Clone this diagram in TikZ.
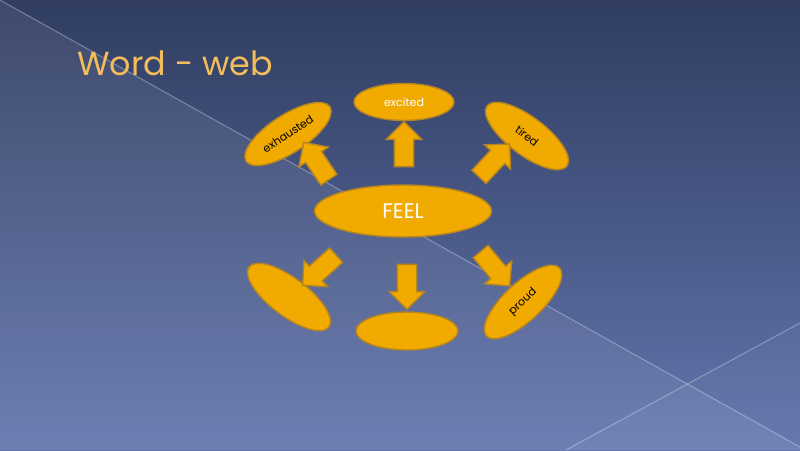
\documentclass[tikz,border=0pt]{standalone}
\usepackage{fontspec}
\setmainfont{Poppins}
\usetikzlibrary{shapes.geometric}
\usetikzlibrary{shapes.arrows}

\definecolor{slidetop}{HTML}{303D61}
\definecolor{slidebottom}{HTML}{6275AD}
\definecolor{petal}{HTML}{F0AA00}
\definecolor{petalrim}{HTML}{B58522}
\definecolor{titlegold}{HTML}{F4BD5B}

\begin{document}
\begin{tikzpicture}[x=0.02cm, y=-0.02cm,
    bubble/.style={ellipse, draw=petalrim, fill=petal, line width=0.8pt, minimum width=2cm, minimum height=0.76cm, inner sep=0pt, font=\fontsize{6.3}{7}\selectfont},
    push/.style={single arrow, draw=petalrim, fill=petal, line width=0.8pt, inner xsep=0pt, inner ysep=0.18cm, single arrow head extend=0.16cm, minimum height=0.9cm}]
        \useasboundingbox (0,0) rectangle (800,450);
        % slide background
        \shade[top color=slidetop, bottom color=slidebottom] (0,0) rectangle (800,450);
        \fill[white, opacity=0.07] (0,0) -- (800,447) -- (800,450) -- (0,450) -- cycle;
        \fill[white, opacity=0.03] (566,450) -- (800,323) -- (800,450) -- cycle;
        \draw[white, opacity=0.3, line width=0.6pt] (0,0) -- (800,447);
        \draw[white, opacity=0.3, line width=0.6pt] (566,450) -- (800,323);
        \node[anchor=base west, text=titlegold, font=\fontsize{19}{22}\selectfont, inner sep=0pt] (title) at (77,75) {Word - web};

        % centre and outer words
        \node[bubble, minimum width=3.54cm, minimum height=1.04cm, text=white, font=\fontsize{12}{14}\selectfont] (feel) at (403,211) {FEEL};
        \node[bubble, minimum height=0.74cm, text=white] (excited) at (404,102) {excited};
        \node[bubble, rotate=33] (exhausted) at (288,134) {exhausted};
        \node[bubble, rotate=-37] (tired) at (527,136) {tired};
        \node[bubble, rotate=43] (proud) at (523,302) {proud};
        \node[bubble, rotate=-37] (blankleft) at (289,297) {};
        \node[bubble, minimum width=2.04cm] (blankbottom) at (407,331) {};

        % block arrows
        \node[push, rotate=90] (toexcited) at (404,149) {};
        \node[push, rotate=124] (toexhausted) at (319,165) {};
        \node[push, rotate=47] (totired) at (491,164) {};
        \node[push, rotate=-138] (toblankleft) at (323,267) {};
        \node[push, rotate=-90] (toblankbottom) at (407,282) {};
        \node[push, rotate=-50] (toproud) at (492,265) {};
\end{tikzpicture}
\end{document}
